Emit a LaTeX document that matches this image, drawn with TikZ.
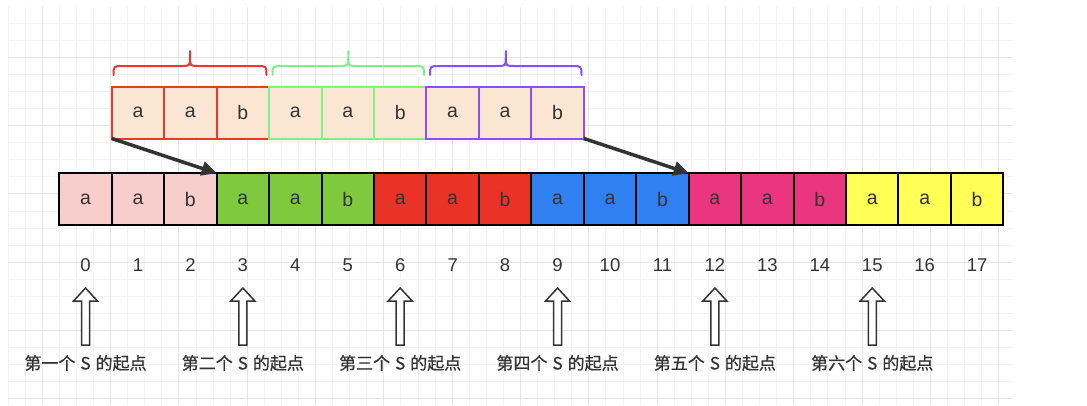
\documentclass[tikz,border=0pt]{standalone}
\usepackage{fontspec}
\setmainfont{Liberation Sans}
\newfontfamily\cjk[FakeBold=0.6]{Noto Sans CJK SC}
\usetikzlibrary{arrows.meta}
\definecolor{txt}{HTML}{333333}
\definecolor{gminor}{HTML}{F3F3F3}
\definecolor{gmajor}{HTML}{E6E6E6}
\definecolor{pinkc}{HTML}{F8CECC}
\definecolor{greenc}{HTML}{7FC93E}
\definecolor{redc}{HTML}{E93326}
\definecolor{bluec}{HTML}{3080F2}
\definecolor{magc}{HTML}{EA367F}
\definecolor{yellowc}{HTML}{FFFF55}
\definecolor{peach}{HTML}{FBE6D3}
\definecolor{tred}{HTML}{E83A2C}
\definecolor{tgreen}{HTML}{7DF28A}
\definecolor{tpurple}{HTML}{8C4DFF}
\tikzset{
  cell/.style={minimum width=52.45pt, minimum height=52pt, inner sep=0pt, outer sep=0pt,
    line width=2pt, font=\fontsize{19.5}{19.5}\selectfont, text=txt},
  maincell/.style={cell, draw=black},
  topcell/.style={cell, fill=peach},
  idx/.style={font=\fontsize{18.5}{18.5}\selectfont, text=txt, inner sep=0pt},
  lbl/.style={font=\cjk\fontsize{17}{17}\selectfont, text=txt, inner sep=0pt},
  bracepath/.style={line width=2pt, line cap=round, line join=round},
  bigarrow/.style={draw=txt, line width=3.5pt, -{Triangle[length=15pt,width=14pt]}},
  hollowarrow/.style={draw=txt, fill=white, line width=1.5pt, line join=miter},
  minorline/.style={draw=gminor, line width=1pt},
  majorline/.style={draw=gmajor, line width=1pt}
}
\begin{document}
\begin{tikzpicture}[x=1pt,y=-1pt]
\useasboundingbox (0,0) rectangle (1087,405);
\fill[white] (0,0) rectangle (1087,405);
% background grid
\begin{scope}
\clip (8,7) rectangle (1013,405);
\foreach \k in {0,...,58} \draw[minorline] (8.14+17.08*\k,0) -- (8.14+17.08*\k,405);
\foreach \k in {-3,...,21} \draw[minorline] (0,57.3+17.08*\k) -- (1087,57.3+17.08*\k);
\foreach \k in {0,...,14} \draw[majorline] (42.3+68.32*\k,0) -- (42.3+68.32*\k,405);
\foreach \k in {0,...,5} \draw[majorline] (0,57.3+68.32*\k) -- (1087,57.3+68.32*\k);
\end{scope}
% main row
\foreach \i/\c/\t in {0/pinkc/a,1/pinkc/a,2/pinkc/b,3/greenc/a,4/greenc/a,5/greenc/b,
  6/redc/a,7/redc/a,8/redc/b,9/bluec/a,10/bluec/a,11/bluec/b,
  12/magc/a,13/magc/a,14/magc/b,15/yellowc/a,16/yellowc/a,17/yellowc/b}
  \node[maincell, fill=\c] (m\i) at (85.5+52.45*\i,199.2) {\t};
% top row
\foreach \i/\c/\t in {0/tred/a,1/tred/a,2/tred/b,3/tgreen/a,4/tgreen/a,5/tgreen/b,
  6/tpurple/a,7/tpurple/a,8/tpurple/b}
  \node[topcell, draw=\c] (t\i) at (137.95+52.45*\i,112.5) {\t};
% braces
\foreach \xa/\xb/\c in {113.5/266.5/tred, 272.5/424/tgreen, 430/581.5/tpurple}{
  \pgfmathsetmacro{\xm}{(\xa+\xb)/2}
  \draw[bracepath, draw=\c] (\xa,75) .. controls (\xa,66) .. (\xa+10,66) -- (\xm-9,66)
    .. controls (\xm,66) .. (\xm,57) -- (\xm,51) -- (\xm,57)
    .. controls (\xm,66) .. (\xm+9,66) -- (\xb-10,66) .. controls (\xb,66) .. (\xb,75);
}
% thick arrows
\draw[bigarrow] (t0.south west) -- (m3.north west);
\draw[bigarrow] (t8.south east) -- (m12.north west);
% indices
\foreach \i in {0,...,17} \node[idx] (n\i) at (85.5+52.45*\i,265) {\i};
% hollow arrows and labels
\foreach \i/\w in {0/一,3/二,6/三,9/四,12/五,15/六}{
  \pgfmathsetmacro{\xc}{85.5+52.45*\i}
  \draw[hollowarrow] (\xc,288) -- (\xc+12,301) -- (\xc+4,301) -- (\xc+4,345)
    -- (\xc-4,345) -- (\xc-4,301) -- (\xc-12,301) -- cycle;
  \node[lbl] (l\i) at (\xc,363) {第\w 个\hspace{5pt}S\hspace{5pt}的起点};
}
\end{tikzpicture}
\end{document}
